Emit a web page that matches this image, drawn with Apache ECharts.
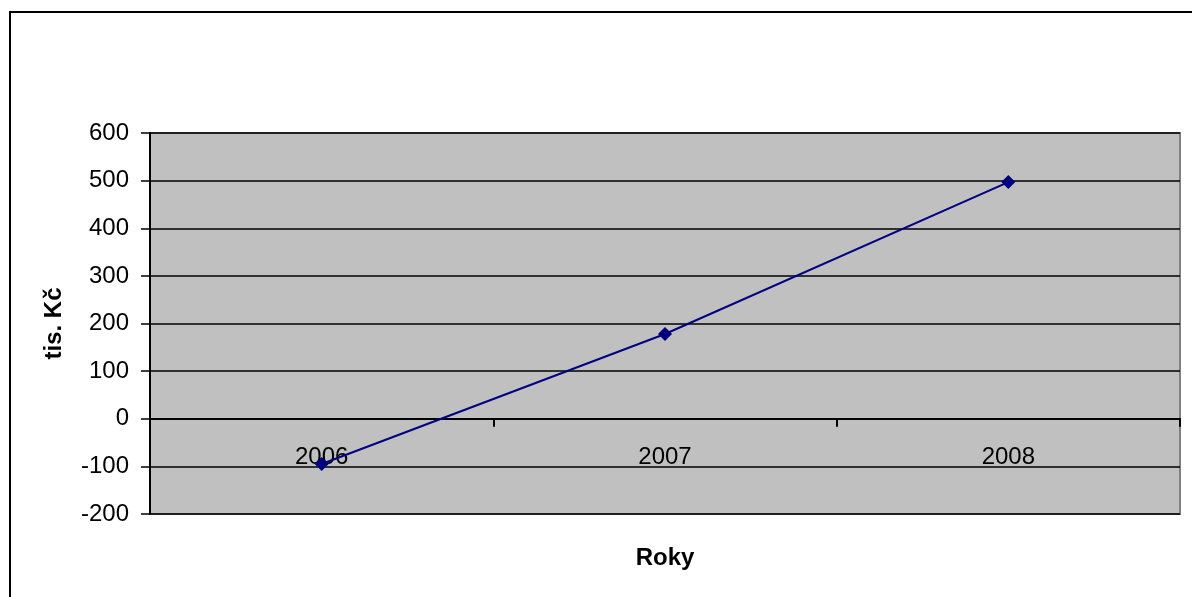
<!DOCTYPE html>
<html>
<head>
<meta charset="utf-8">
<script src="https://cdn.jsdelivr.net/npm/echarts@6/dist/echarts.min.js"></script>
<style>
  html, body { margin: 0; padding: 0; background: #fff; }
  #chart { width: 1192px; height: 597px; }
</style>
</head>
<body>
<div id="chart"></div>
<script>
// Roční výsledek hospodaření (tis. Kč)
const years = ['2006', '2007', '2008'];
const values = [-95, 178, 497];
const yTicks = { min: -200, max: 600, interval: 100 };

const GRID = { left: 150, right: 12, top: 133, bottom: 83 };
const H = 597;
const plotH = H - GRID.top - GRID.bottom;
// shift the category axis up so it sits on the zero line
const zeroOffset = -plotH * (0 - yTicks.min) / (yTicks.max - yTicks.min);

const chart = echarts.init(document.getElementById('chart'));
const font = '"Liberation Sans", Arial, sans-serif';

chart.setOption({
  animation: false,
  backgroundColor: '#ffffff',
  grid: {
    left: GRID.left, right: GRID.right, top: GRID.top, bottom: GRID.bottom,
    show: true,
    backgroundColor: '#c0c0c0',
    borderColor: '#808080',
    borderWidth: 2
  },
  graphic: [
    {
      type: 'rect',
      shape: { x: 10, y: 12, width: 1200, height: 600 },
      style: { fill: 'none', stroke: '#000', lineWidth: 2 },
      z: -1
    },
    {
      type: 'text',
      x: 665, y: 558,
      style: {
        text: 'Roky', font: 'bold 24px ' + font, fill: '#000',
        textAlign: 'center', textVerticalAlign: 'middle'
      }
    }
  ],
  xAxis: {
    type: 'category',
    data: years,
    boundaryGap: true,
    position: 'bottom',
    offset: zeroOffset,
    axisLine: { onZero: false, lineStyle: { color: '#000', width: 2 } },
    axisTick: { show: true, length: 8, lineStyle: { color: '#000', width: 2 } },
    axisLabel: { color: '#000', fontSize: 24, fontFamily: font, margin: 27 },
    splitLine: { show: false }
  },
  yAxis: {
    type: 'value',
    min: yTicks.min, max: yTicks.max, interval: yTicks.interval,
    name: 'tis. Kč',
    nameLocation: 'middle',
    nameGap: 84,
    nameTextStyle: { color: '#000', fontSize: 24, fontWeight: 'bold', fontFamily: font },
    axisLine: { show: true, lineStyle: { color: '#000', width: 2 } },
    axisTick: { show: true, length: 9, lineStyle: { color: '#000', width: 1.5 } },
    axisLabel: { color: '#000', fontSize: 24, fontFamily: font, margin: 21 },
    splitLine: { show: true, lineStyle: { color: '#000', width: 1.5 } }
  },
  series: [{
    type: 'line',
    data: values,
    symbol: 'diamond',
    symbolSize: 14,
    itemStyle: { color: '#000080' },
    lineStyle: { color: '#000080', width: 2 },
    z: 3
  }]
});
</script>
</body>
</html>
